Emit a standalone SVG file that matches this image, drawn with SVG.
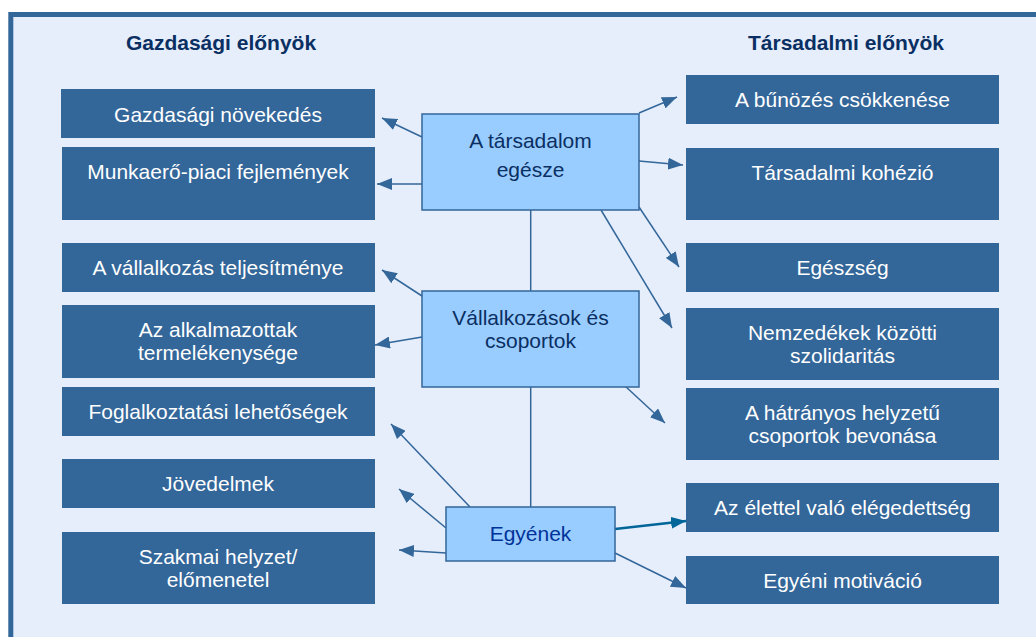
<svg xmlns="http://www.w3.org/2000/svg" width="1036" height="637" viewBox="0 0 1036 637">
<style>
.dark{fill:#336699}
.light{fill:#99CCFF;stroke:#336699;stroke-width:1.5}
.wt{font-family:"Liberation Sans",Arial,sans-serif;font-size:21px;fill:#FFFFFF;text-anchor:middle}
.ct{font-family:"Liberation Sans",Arial,sans-serif;font-size:21px;fill:#0A2F62;text-anchor:middle}
.hd{font-family:"Liberation Sans",Arial,sans-serif;font-size:21px;font-weight:bold;fill:#0A2F62;text-anchor:middle}
.ln{stroke:#336699;stroke-width:1.5;fill:none}
.ar{stroke:#336699;stroke-width:1.5;fill:none;marker-end:url(#ah)}
.ar2{stroke:#006699;stroke-width:2.5;fill:none;marker-end:url(#ah2)}
</style>
<defs>
<marker id="ah" markerUnits="userSpaceOnUse" markerWidth="15" markerHeight="12" refX="15" refY="6" orient="auto" viewBox="0 0 15 12">
<path d="M0,0 L15,6 L0,12 z" fill="#336699"/>
</marker>
<marker id="ah2" markerUnits="userSpaceOnUse" markerWidth="15" markerHeight="12" refX="15" refY="6" orient="auto" viewBox="0 0 15 12">
<path d="M0,0 L15,6 L0,12 z" fill="#006699"/>
</marker>
</defs>
<rect x="0" y="0" width="1036" height="637" fill="#FFFFFF"/>
<rect x="10.8" y="14.5" width="1040" height="640" fill="#E6EEFC" stroke="#336699" stroke-width="5"/>
<text class="hd" x="221" y="50">Gazdasági előnyök</text>
<text class="hd" x="846" y="50">Társadalmi előnyök</text>
<g id="connectors">
<line class="ln" x1="530.7" y1="210" x2="530.7" y2="291"/>
<line class="ln" x1="530.7" y1="387" x2="530.7" y2="507"/>
<line class="ar" x1="422" y1="137" x2="382" y2="118"/>
<line class="ar" x1="422" y1="184" x2="377" y2="184"/>
<line class="ar" x1="422" y1="296" x2="382" y2="270"/>
<line class="ar" x1="422" y1="337" x2="375" y2="345"/>
<line class="ar" x1="639" y1="113" x2="677" y2="97"/>
<line class="ar" x1="639" y1="161" x2="683" y2="165"/>
<line class="ar" x1="639" y1="207" x2="679" y2="267"/>
<line class="ar" x1="601" y1="210" x2="672" y2="328"/>
<line class="ar" x1="625" y1="386" x2="665" y2="423"/>
<line class="ar" x1="470" y1="507" x2="391" y2="424"/>
<line class="ar" x1="446" y1="528" x2="399" y2="489"/>
<line class="ar" x1="446" y1="553" x2="399" y2="550"/>
<line class="ar2" x1="615" y1="529" x2="686" y2="521"/>
<line class="ar" x1="615" y1="553" x2="686" y2="588"/>
</g>
<g id="n-gazd-novekedes"><rect class="dark" x="61" y="89" width="314" height="49"/><text class="wt" x="218" y="122">Gazdasági növekedés</text></g>
<g id="n-munkaero"><rect class="dark" x="62" y="147" width="313" height="73"/><text class="wt" x="218" y="179">Munkaerő-piaci fejlemények</text></g>
<g id="n-vallalkozas-telj"><rect class="dark" x="62" y="243" width="313" height="49"/><text class="wt" x="218" y="275">A vállalkozás teljesítménye</text></g>
<g id="n-alkalmazottak"><rect class="dark" x="62" y="305" width="313" height="73"/><text class="wt" x="218" y="337">Az alkalmazottak</text><text class="wt" x="218" y="360">termelékenysége</text></g>
<g id="n-foglalkoztatasi"><rect class="dark" x="62" y="387" width="313" height="49"/><text class="wt" x="218" y="419">Foglalkoztatási lehetőségek</text></g>
<g id="n-jovedelmek"><rect class="dark" x="62" y="459" width="313" height="49"/><text class="wt" x="218" y="491">Jövedelmek</text></g>
<g id="n-szakmai"><rect class="dark" x="62" y="532" width="313" height="72"/><text class="wt" x="218" y="564">Szakmai helyzet/</text><text class="wt" x="218" y="587">előmenetel</text></g>
<g id="n-bunozes"><rect class="dark" x="686" y="75" width="313" height="49"/><text class="wt" x="842.5" y="107">A bűnözés csökkenése</text></g>
<g id="n-kohezio"><rect class="dark" x="686" y="148" width="313" height="72"/><text class="wt" x="842.5" y="180">Társadalmi kohézió</text></g>
<g id="n-egeszseg"><rect class="dark" x="686" y="243" width="313" height="49"/><text class="wt" x="842.5" y="275">Egészség</text></g>
<g id="n-nemzedekek"><rect class="dark" x="686" y="308" width="313" height="72"/><text class="wt" x="842.5" y="340">Nemzedékek közötti</text><text class="wt" x="842.5" y="363">szolidaritás</text></g>
<g id="n-hatranyos"><rect class="dark" x="686" y="388" width="313" height="72"/><text class="wt" x="842.5" y="420">A hátrányos helyzetű</text><text class="wt" x="842.5" y="443">csoportok bevonása</text></g>
<g id="n-elettel"><rect class="dark" x="686" y="483" width="313" height="49"/><text class="wt" x="842.5" y="515">Az élettel való elégedettség</text></g>
<g id="n-motivacio"><rect class="dark" x="686" y="556" width="313" height="48"/><text class="wt" x="842.5" y="588">Egyéni motiváció</text></g>
<g id="n-tarsadalom"><rect class="light" x="422" y="114" width="217" height="96"/><text class="ct" x="530.5" y="148">A társadalom</text><text class="ct" x="530.5" y="177">egésze</text></g>
<g id="n-vallalkozasok"><rect class="light" x="422" y="291" width="217" height="96"/><text class="ct" x="530.5" y="325">Vállalkozások és</text><text class="ct" x="530.5" y="348">csoportok</text></g>
<g id="n-egyenek"><rect class="light" x="446" y="507" width="169" height="54"/><text class="ct" x="530.5" y="541" style="fill:#003399">Egyének</text></g>
</svg>
